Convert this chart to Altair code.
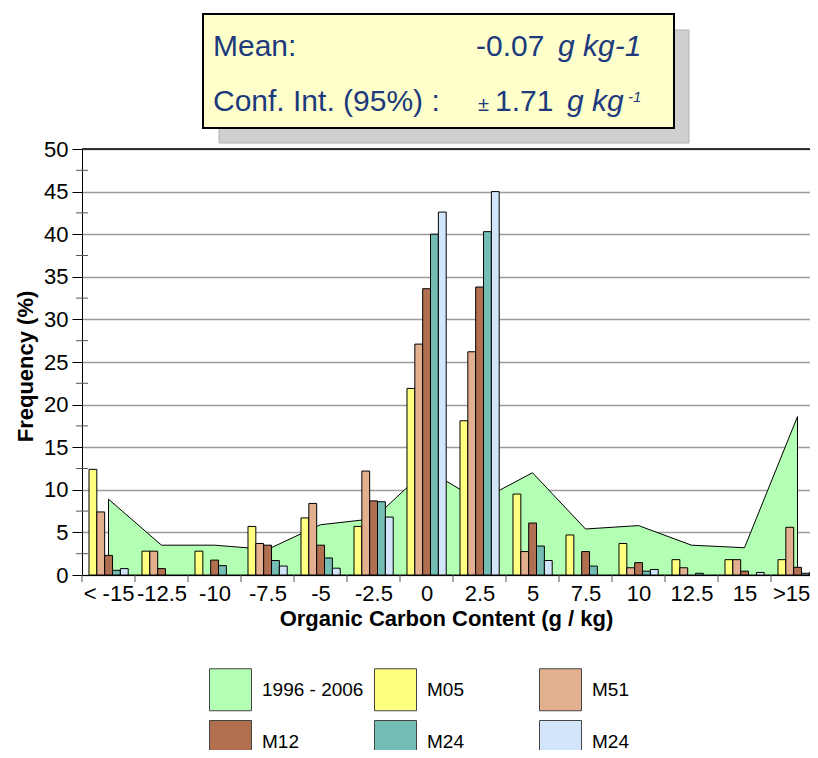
import altair as alt
import pandas as pd

# ---------------- data ----------------
categories = ["< -15", "-12.5", "-10", "-7.5", "-5", "-2.5", "0", "2.5",
              "5", "7.5", "10", "12.5", "15", ">15"]
series_names = ["1996 - 2006", "M05", "M51", "M12", "M24", "M24 "]
series_colors = ["#b3ffb3", "#ffff80", "#e3b08f", "#b07050", "#74bdb5", "#d3e5fb"]

area_1996_2006 = [8.9, 3.5, 3.5, 3.0, 5.9, 6.6, 12.4, 8.7, 12.0, 5.4, 5.8, 3.5, 3.2, 18.6]
m05 = [12.4, 2.8, 2.8, 5.7, 6.7, 5.7, 21.9, 18.1, 9.5, 4.7, 3.7, 1.8, 1.8, 1.8]
m51 = [7.4, 2.8, 0, 3.7, 8.4, 12.2, 27.1, 26.2, 2.75, 0, 0.85, 0.85, 1.8, 5.6]
m12 = [2.3, 0.75, 1.75, 3.5, 3.5, 8.7, 33.6, 33.8, 6.1, 2.75, 1.45, 0, 0.45, 0.9]
m24a = [0.55, 0, 1.1, 1.7, 2.0, 8.6, 40.0, 40.3, 3.4, 1.05, 0.45, 0.2, 0, 0.2]
m24b = [0.75, 0, 0, 1.05, 0.8, 6.8, 42.6, 45.0, 1.7, 0, 0.65, 0, 0.3, 0.3]

y_ticks = [0, 5, 10, 15, 20, 25, 30, 35, 40, 45, 50]
y_minor = [2.5, 7.5, 12.5, 17.5, 22.5, 27.5, 32.5, 37.5, 42.5, 47.5]
x_bounds = list(range(len(categories)))
# label at the middle of each class; the last one is pulled in a little so it
# stays inside the page (the reference crops it at the right edge)
x_label_pos = [i + 0.5 for i in range(len(categories) - 1)] + [13.38]

# ---------------- layout ----------------
W, H = 728, 426
CAT_PX = 53
x_max = W / CAT_PX
FONT = "Liberation Sans"
TXT = "#1c3a7c"

area_df = pd.DataFrame({"idx": list(range(len(categories))),
                        "value": area_1996_2006,
                        "series": series_names[0]})
rows = []
for slot, (name, vals) in enumerate(zip(series_names[1:], [m05, m51, m12, m24a, m24b])):
    for i, v in enumerate(vals):
        if v > 0:
            rows.append({"idx": i, "slot": slot, "series": name, "value": v})
bar_df = pd.DataFrame(rows)

x_scale = alt.Scale(domain=[0, x_max], nice=False, zero=False)
y_scale = alt.Scale(domain=[0, 50], nice=False)

label_expr = "[" + ",".join("'%s'" % c for c in categories) + "][floor(datum.value)]"
x_axis = alt.Axis(values=x_label_pos, labelExpr=label_expr, ticks=False, grid=False,
                  domainColor="black", domainWidth=1, labelFontSize=22, labelFont=FONT,
                  labelColor="black", labelPadding=8, labelOverlap=False, labelFlush=False,
                  title="Organic Carbon Content (g / kg)", titleFontSize=22, titleFont=FONT,
                  titleFontWeight="bold", titleColor="black", titlePadding=4)
y_axis = alt.Axis(values=y_ticks, grid=True, gridColor="#9c9c9c", gridWidth=1.5,
                  tickSize=10, tickColor="black", domainColor="black", domainWidth=1,
                  labelFontSize=22, labelFont=FONT, labelColor="black", labelPadding=4,
                  title="Frequency (%)", titleFontSize=22, titleFont=FONT,
                  titleFontWeight="bold", titleColor="black", titleX=-50, titleY=217,
                  titleBaseline="alphabetic", titleAlign="center", titleAngle=270)

color = alt.Color("series:N",
                  scale=alt.Scale(domain=series_names, range=series_colors),
                  legend=alt.Legend(orient="none", legendX=127, legendY=519, title=None,
                                    direction="horizontal", columns=3, columnPadding=8,
                                    rowPadding=5, gridAlign="all", symbolType="square",
                                    symbolSize=1764, symbolStrokeColor="#444",
                                    symbolStrokeWidth=1, symbolOpacity=1, labelFontSize=19,
                                    labelFont=FONT, labelColor="black", labelOffset=10,
                                    labelLimit=250))

area = alt.Chart(area_df).transform_calculate(xc="datum.idx + 0.5").mark_area(
    stroke="black", strokeWidth=1, opacity=1, interpolate="linear"
).encode(
    x=alt.X("xc:Q", scale=x_scale, axis=x_axis),
    y=alt.Y("value:Q", scale=y_scale, axis=y_axis),
    color=color,
)

bars = alt.Chart(bar_df).transform_calculate(
    x0="datum.idx + 0.132 + datum.slot * 0.148",
    x1="datum.idx + 0.132 + datum.slot * 0.148 + 0.148",
).mark_bar(stroke="black", strokeWidth=1, opacity=1, clip=True).encode(
    x=alt.X("x0:Q", scale=x_scale),
    x2="x1:Q",
    y=alt.Y("value:Q", scale=y_scale),
    y2=alt.datum(0),
    color=color,
)

x_ticks = alt.Chart(pd.DataFrame({"b": x_bounds})).mark_rule(color="#555", strokeWidth=1).encode(
    x=alt.X("b:Q", scale=x_scale), y=alt.value(H), y2=alt.value(H + 7))

y_minor_ticks = alt.Chart(pd.DataFrame({"m": y_minor})).mark_rule(color="#555", strokeWidth=1).encode(
    y=alt.Y("m:Q", scale=y_scale), x=alt.value(-6), x2=alt.value(6))

top_line = alt.Chart(pd.DataFrame({"t": [50]})).mark_rule(color="black", strokeWidth=1.5).encode(
    y=alt.Y("t:Q", scale=y_scale), x=alt.value(0), x2=alt.value(W))


def box(x, x2, y, y2, fill, stroke, sw):
    return alt.Chart(alt.Data(values=[{}])).mark_rect(fill=fill, stroke=stroke, strokeWidth=sw).encode(
        x=alt.value(x), x2=alt.value(x2), y=alt.value(y), y2=alt.value(y2))


def txt(s, x, y, size, style="normal"):
    return alt.Chart(alt.Data(values=[{}])).mark_text(
        text=s, align="left", baseline="alphabetic", font=FONT, fontSize=size,
        fontStyle=style, color=TXT).encode(x=alt.value(x), y=alt.value(y))


header = [
    box(137, 607, -119, -6, "#cfcfcf", "#b0b0b0", 1),
    box(121, 592, -135, -21, "#ffffcc", "black", 2),
    txt("Mean:", 131, -93, 30),
    txt("-0.07", 394, -93, 30),
    txt("g kg-1", 476, -93, 30, "italic"),
    txt("Conf. Int. (95%) :", 131, -38, 30),
    txt("\u00b1", 396, -38, 20),
    txt("1.71", 413, -38, 30),
    txt("g kg", 485, -38, 30, "italic"),
    txt("-1", 546, -47, 15, "italic"),
]

chart = alt.layer(
    *header, area, bars, x_ticks, y_minor_ticks, top_line
).properties(
    width=W, height=H,
    autosize=alt.AutoSizeParams(type="none"),
    padding={"left": 74, "top": 141, "right": 0, "bottom": 175},
    background="white",
).configure_view(stroke=None)

chart.save("out.html", embed_options={"renderer": "svg", "actions": False})
